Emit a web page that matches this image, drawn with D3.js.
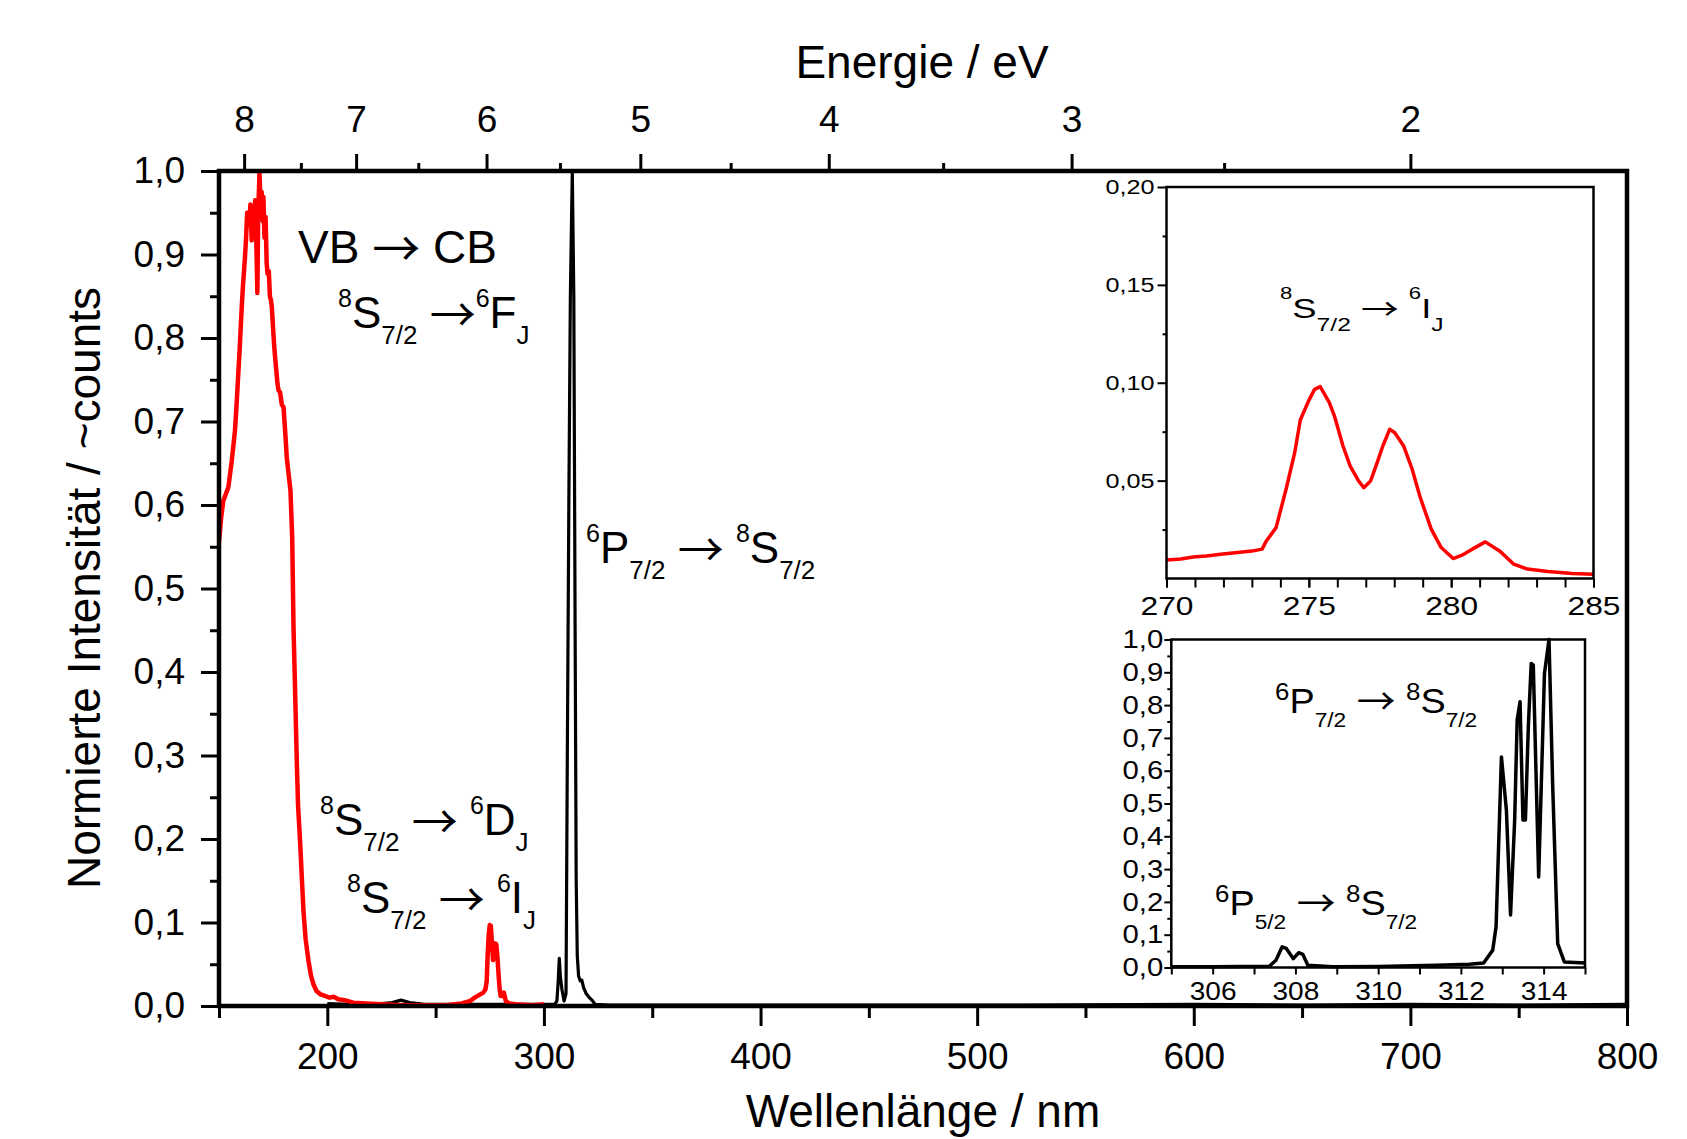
<!DOCTYPE html>
<html>
<head>
<meta charset="utf-8">
<script src="https://cdn.jsdelivr.net/npm/d3@7"></script>
<style>
    body { margin: 0; background: #fff; }
    text { font-family: "Liberation Sans", Arial, sans-serif; fill: #000; }
    .arrow { font-family: "Noto Sans CJK JP", "DejaVu Sans", sans-serif; }
</style>
</head>
<body>
<div id="chart"></div>
<script>
// -- DATA ----------------------------------------

// main spectrum, red (excitation)
var redMainNm = [150, 151, 152, 153, 154.3, 155, 155.9, 157, 157.4, 158, 158.9, 159.5, 160.5, 161, 162, 162.5, 163, 163.6, 164, 164.5,
    165.1, 165.6, 166.2, 166.7, 167.2, 167.7, 168.1, 168.7, 169.2, 169.7, 170.2, 170.5, 171, 171.5, 172, 172.4, 173, 173.5, 174, 174.4,
    175, 175.5, 175.9, 176.5, 177, 177.5, 178.2, 179, 179.8, 180.5, 181.3, 182, 183, 183.8, 184.4, 185.2, 185.9, 186.5, 187.5, 188.3,
    189, 190, 191.3, 192.5, 193.6, 195, 196.8, 199, 201, 203, 205, 208, 212, 218, 225, 235, 245, 255, 262, 266,
    268, 270, 272, 273, 273.6, 274, 274.5, 275, 275.5, 276, 276.5, 277, 277.5, 278, 278.5, 279, 279.5, 280, 281, 281.5,
    282.4, 284, 287, 295, 300];
var redMainI = [0.555, 0.585, 0.605, 0.612, 0.621, 0.635, 0.653, 0.68, 0.69, 0.715, 0.757, 0.785, 0.837, 0.86, 0.897, 0.92, 0.95, 0.949, 0.935, 0.96,
    0.917, 0.955, 0.93, 0.965, 0.92, 0.854, 0.95, 0.997, 0.96, 0.975, 0.94, 0.969, 0.92, 0.945, 0.89, 0.877, 0.88, 0.85, 0.845, 0.837,
    0.81, 0.79, 0.777, 0.76, 0.745, 0.737, 0.735, 0.72, 0.717, 0.69, 0.657, 0.64, 0.617, 0.56, 0.454, 0.37, 0.294, 0.24, 0.194, 0.15,
    0.114, 0.08, 0.054, 0.036, 0.026, 0.018, 0.014, 0.012, 0.01, 0.011, 0.008, 0.007, 0.004, 0.003, 0.002, 0.001, 0.001, 0.001, 0.003, 0.006,
    0.01, 0.013, 0.016, 0.02, 0.03, 0.06, 0.085, 0.097, 0.096, 0.075, 0.055, 0.06, 0.075, 0.074, 0.06, 0.04, 0.022, 0.012, 0.012, 0.016,
    0.006, 0.003, 0.002, 0.001, 0.002];

// main spectrum, black (emission)
var blackMainNm = [200, 210, 225, 230, 234, 238, 245, 260, 280, 300, 305, 306, 306.6, 307.1, 307.6, 308.3, 309.3, 310.2, 310.8, 311.5,
    312.2, 313.1, 313.8, 314.4, 314.9, 315.4, 316, 316.8, 317.5, 318.3, 319.5, 321, 322.5, 323.6, 330, 400, 500, 600, 650, 700, 750, 800];
var blackMainI = [0.003, 0.002, 0.003, 0.004, 0.007, 0.004, 0.002, 0.002, 0.002, 0.002, 0.002, 0.006, 0.03, 0.057, 0.035, 0.02, 0.006, 0.015, 0.3, 0.6,
    0.85, 1.0, 0.85, 0.45, 0.15, 0.06, 0.036, 0.03, 0.031, 0.022, 0.015, 0.01, 0.006, 0.002, 0.001, 0.001, 0.001, 0.002, 0.001, 0.002, 0.001, 0.002];

// inset 1: 8S7/2 -> 6IJ
var inset1Nm = [270, 270.5, 270.94, 271.4, 271.9, 272.5, 273, 273.36, 273.5, 273.85, 274.2, 274.5, 274.7, 275, 275.2, 275.4, 275.72, 275.9,
    276.2, 276.45, 276.75, 276.93, 277.17, 277.4, 277.6, 277.84, 278.02, 278.33, 278.63, 278.9, 279.3, 279.65, 280.07, 280.38, 280.74,
    281.2, 281.7, 282.2, 282.68, 283.4, 284.25, 285];
var inset1I = [0.0095, 0.010, 0.011, 0.0115, 0.0124, 0.0133, 0.014, 0.015, 0.019, 0.026, 0.0456, 0.064, 0.081, 0.091, 0.0966, 0.098, 0.0898, 0.083,
    0.0677, 0.0575, 0.0498, 0.0464, 0.0498, 0.0592, 0.0677, 0.0762, 0.0745, 0.0677, 0.0558, 0.042, 0.0252, 0.0158, 0.0102, 0.0119, 0.015,
    0.0187, 0.0141, 0.0073, 0.0048, 0.0036, 0.0026, 0.0022];

// inset 2: 6P -> 8S7/2
var inset2Nm = [305, 306, 307.37, 307.53, 307.68, 307.78, 307.95, 308.08, 308.18, 308.3, 308.9, 310, 311.4, 312.2, 312.55, 312.77, 312.85,
    312.98, 313.1, 313.2, 313.3, 313.36, 313.43, 313.5, 313.56, 313.63, 313.7, 313.75, 313.88, 314.02, 314.13, 314.22, 314.34, 314.5, 315];
var inset2I = [0.002, 0.002, 0.004, 0.022, 0.063, 0.058, 0.027, 0.045, 0.04, 0.007, 0.002, 0.003, 0.007, 0.01, 0.014, 0.053, 0.124,
    0.642, 0.48, 0.16, 0.45, 0.754, 0.81, 0.45, 0.45, 0.734, 0.927, 0.922, 0.276, 0.896, 1.0, 0.55, 0.073, 0.017, 0.014];

// top axis: energy ticks and where they sit on the wavelength axis
var energyCal = [8, 7.5, 7, 6.5, 6, 5.5, 5, 4.5, 4, 3.5, 3, 2.5, 2];
var energyCalNm = [161.6, 187.8, 213.3, 242.0, 273.5, 307.4, 344.5, 386.2, 431.5, 484.3, 543.6, 614.0, 700.0];
var energyMajor = [8, 7, 6, 5, 4, 3, 2];
var energyMinor = [7.5, 6.5, 5.5, 4.5, 3.5, 2.5];

var wlMajor = [200, 300, 400, 500, 600, 700, 800];
var wlMinor = [150, 250, 350, 450, 550, 650, 750];
var intMajor = d3.range(0, 11).map(d => d / 10);
var intMinor = d3.range(0, 10).map(d => d / 10 + 0.05);

var in1Major = [270, 275, 280, 285];
var in1Minor = d3.range(270, 286);
var in1YMajor = [0.05, 0.10, 0.15, 0.20];
var in1YMinor = [0.025, 0.075, 0.125, 0.175];

var in2Major = [306, 308, 310, 312, 314];
var in2Minor = [305, 307, 309, 311, 313, 315];
var in2YMajor = d3.range(0, 11).map(d => d / 10);
var in2YMinor = d3.range(0, 10).map(d => d / 10 + 0.05);

// -- SETUP ---------------------------------------

let width = 1687,
    height = 1139;

var plot = { left: 219, right: 1627, top: 171, bottom: 1006 };

var svg = d3.select("#chart")
    .append("svg")
    .attr("width", width)
    .attr("height", height);

svg.append("rect").attr("width", width).attr("height", height).attr("fill", "#fff");

var x = d3.scaleLinear().domain([150, 800]).range([plot.left, plot.right]);
var y = d3.scaleLinear().domain([0, 1]).range([plot.bottom, plot.top]);
var xE = d3.scaleLinear().domain(energyCal).range(energyCalNm.map(x));

function comma(digits) {
    return d => d.toFixed(digits).replace(".", ",");
}

// draws one axis, strips the domain line, sets tick look
function drawAxis(parent, axis, opts) {
    var a = parent.append("g")
        .attr("transform", "translate(" + (opts.tx || 0) + "," + (opts.ty || 0) + ")")
        .call(axis);
    a.attr("font-family", null).attr("font-size", opts.size || 10);
    a.select(".domain").remove();
    a.selectAll("line").attr("stroke", "#000").attr("stroke-width", opts.tickW);
    if (opts.sx) {
        a.selectAll("text").attr("transform", "scale(" + opts.sx + ",1)");
        if (opts.left) {
            a.selectAll("text").attr("x", -opts.off / opts.sx);
        }
    }
    return a;
}

// text with super- and subscripts, parts = [[str, "sup"|"sub"|"n"|"arr"], ...]
function richLabel(parent, px, py, o, parts) {
    var g = parent.append("g")
        .attr("transform", "translate(" + px + "," + py + ") scale(" + (o.sx || 1) + ",1)");
    var t = g.append("text")
        .attr("font-size", o.size)
        .style("white-space", "pre");
    var cur = 0;
    parts.forEach(p => {
        var off = p[1] == "sup" ? -o.supUp : (p[1] == "sub" ? o.subDown : (p[1] == "arr" ? o.arrDown : 0));
        var fs = p[1] == "sup" ? o.supSize : (p[1] == "sub" ? o.subSize : (p[1] == "arr" ? o.arrSize : o.size));
        var ts = t.append("tspan").attr("dy", off - cur).attr("font-size", fs).text(p[0]);
        if (p[1] == "arr") ts.attr("class", "arrow");
        cur = off;
    });
    return g;
}

// -- MAIN PLOT -----------------------------------

svg.append("clipPath").attr("id", "mainclip")
    .append("rect")
    .attr("x", plot.left).attr("y", plot.top - 2)
    .attr("width", plot.right - plot.left).attr("height", plot.bottom - plot.top + 2);

var line = d3.line().x(d => x(d[0])).y(d => y(d[1]));

svg.append("path")
    .datum(d3.zip(blackMainNm, blackMainI))
    .attr("clip-path", "url(#mainclip)")
    .attr("fill", "none").attr("stroke", "#000").attr("stroke-width", 3.2)
    .attr("stroke-linejoin", "round")
    .attr("d", line);

svg.append("path")
    .datum(d3.zip(redMainNm, redMainI))
    .attr("clip-path", "url(#mainclip)")
    .attr("fill", "none").attr("stroke", "#ff0000").attr("stroke-width", 4.5)
    .attr("stroke-linejoin", "round")
    .attr("d", line);

// axes
drawAxis(svg, d3.axisLeft(y).tickValues(intMajor).tickSize(18).tickPadding(16).tickFormat(comma(1)),
    { tx: plot.left, size: 37, tickW: 3 });
drawAxis(svg, d3.axisLeft(y).tickValues(intMinor).tickSize(9).tickFormat(""),
    { tx: plot.left, tickW: 3 });
drawAxis(svg, d3.axisBottom(x).tickValues(wlMajor).tickSize(20).tickPadding(17).tickFormat(d3.format("d")),
    { ty: plot.bottom, size: 37, tickW: 3 });
drawAxis(svg, d3.axisBottom(x).tickValues(wlMinor).tickSize(12).tickFormat(""),
    { ty: plot.bottom, tickW: 3 });
drawAxis(svg, d3.axisTop(xE).tickValues(energyMajor).tickSize(17).tickPadding(22).tickFormat(d3.format("d")),
    { ty: plot.top, size: 37, tickW: 3 });
drawAxis(svg, d3.axisTop(xE).tickValues(energyMinor).tickSize(8).tickFormat(""),
    { ty: plot.top, tickW: 3 });

svg.append("rect")
    .attr("x", plot.left).attr("y", plot.top)
    .attr("width", plot.right - plot.left).attr("height", plot.bottom - plot.top)
    .attr("fill", "none").attr("stroke", "#000").attr("stroke-width", 4.5);

// titles
svg.append("text")
    .attr("x", 922).attr("y", 78)
    .attr("text-anchor", "middle").attr("font-size", 46)
    .text("Energie / eV");

svg.append("text")
    .attr("x", 923).attr("y", 1127)
    .attr("text-anchor", "middle").attr("font-size", 46)
    .text("Wellenl\u00e4nge / nm");

svg.append("text")
    .attr("transform", "translate(100,588) rotate(-90)")
    .attr("text-anchor", "middle").attr("font-size", 46)
    .text("Normierte Intensit\u00e4t / ~counts");

// annotations
var big = { size: 44, supSize: 25, supUp: 21, subSize: 26, subDown: 16, arrSize: 46, arrDown: 3 };
var arrow = "\u2192";

richLabel(svg, 298, 263, { size: 46, arrSize: 48, arrDown: 3 },
    [["VB ", "n"], [arrow, "arr"], [" CB", "n"]]);
richLabel(svg, 338, 328, big,
    [["8", "sup"], ["S", "n"], ["7/2", "sub"], [" ", "n"], [arrow, "arr"], ["6", "sup"], ["F", "n"], ["J", "sub"]]);
richLabel(svg, 320, 835, big,
    [["8", "sup"], ["S", "n"], ["7/2", "sub"], [" ", "n"], [arrow, "arr"], [" ", "n"], ["6", "sup"], ["D", "n"], ["J", "sub"]]);
richLabel(svg, 347, 913, big,
    [["8", "sup"], ["S", "n"], ["7/2", "sub"], [" ", "n"], [arrow, "arr"], [" ", "n"], ["6", "sup"], ["I", "n"], ["J", "sub"]]);
richLabel(svg, 586, 563, big,
    [["6", "sup"], ["P", "n"], ["7/2", "sub"], [" ", "n"], [arrow, "arr"], [" ", "n"], ["8", "sup"], ["S", "n"], ["7/2", "sub"]]);

// -- INSET 1 -------------------------------------

var in1 = { left: 1166.5, right: 1593.5, top: 187, bottom: 578.5 };
var x1 = d3.scaleLinear().domain([270, 285]).range([in1.left, in1.right]);
var y1 = d3.scaleLinear().domain([0, 0.2]).range([in1.bottom, in1.top]);

svg.append("rect")
    .attr("x", in1.left).attr("y", in1.top)
    .attr("width", in1.right - in1.left).attr("height", in1.bottom - in1.top)
    .attr("fill", "#fff");

svg.append("path")
    .datum(d3.zip(inset1Nm, inset1I))
    .attr("fill", "none").attr("stroke", "#ff0000").attr("stroke-width", 3.5)
    .attr("stroke-linejoin", "round")
    .attr("d", d3.line().x(d => x1(d[0])).y(d => y1(d[1])));

drawAxis(svg, d3.axisBottom(x1).tickValues(in1Major).tickSize(9).tickPadding(10).tickFormat(d3.format("d")),
    { ty: in1.bottom, size: 25, tickW: 2, sx: 1.27 });
drawAxis(svg, d3.axisBottom(x1).tickValues(in1Minor).tickSize(9).tickFormat(""),
    { ty: in1.bottom, tickW: 2 });
drawAxis(svg, d3.axisLeft(y1).tickValues(in1YMajor).tickSize(9).tickPadding(3).tickFormat(comma(2)),
    { tx: in1.left, size: 21, tickW: 2, sx: 1.2, left: true, off: 12 });
drawAxis(svg, d3.axisLeft(y1).tickValues(in1YMinor).tickSize(4).tickFormat(""),
    { tx: in1.left, tickW: 2 });

svg.append("rect")
    .attr("x", in1.left).attr("y", in1.top)
    .attr("width", in1.right - in1.left).attr("height", in1.bottom - in1.top)
    .attr("fill", "none").attr("stroke", "#000").attr("stroke-width", 2.5);

richLabel(svg, 1280, 318, { size: 28, supSize: 17, supUp: 19, subSize: 19, subDown: 13, arrSize: 29, arrDown: 2, sx: 1.3 },
    [["8", "sup"], ["S", "n"], ["7/2", "sub"], [" ", "n"], [arrow, "arr"], [" ", "n"], ["6", "sup"], ["I", "n"], ["J", "sub"]]);

// -- INSET 2 -------------------------------------

var in2 = { left: 1171.3, right: 1585, top: 639.5, bottom: 967.5 };
var x2 = d3.scaleLinear().domain([305, 315]).range([in2.left, in2.right]);
var y2 = d3.scaleLinear().domain([0, 1]).range([in2.bottom, in2.top]);

svg.append("rect")
    .attr("x", in2.left).attr("y", in2.top)
    .attr("width", in2.right - in2.left).attr("height", in2.bottom - in2.top)
    .attr("fill", "#fff");

svg.append("path")
    .datum(d3.zip(inset2Nm, inset2I))
    .attr("fill", "none").attr("stroke", "#000").attr("stroke-width", 3.5)
    .attr("stroke-linejoin", "round")
    .attr("d", d3.line().x(d => x2(d[0])).y(d => y2(d[1])));

drawAxis(svg, d3.axisBottom(x2).tickValues(in2Major).tickSize(7).tickPadding(7).tickFormat(d3.format("d")),
    { ty: in2.bottom, size: 25.5, tickW: 2, sx: 1.1 });
drawAxis(svg, d3.axisBottom(x2).tickValues(in2Minor).tickSize(7).tickFormat(""),
    { ty: in2.bottom, tickW: 2 });
drawAxis(svg, d3.axisLeft(y2).tickValues(in2YMajor).tickSize(7).tickPadding(1).tickFormat(comma(1)),
    { tx: in2.left, size: 25.5, tickW: 2, sx: 1.15, left: true, off: 8 });
drawAxis(svg, d3.axisLeft(y2).tickValues(in2YMinor).tickSize(4).tickFormat(""),
    { tx: in2.left, tickW: 2 });

svg.append("rect")
    .attr("x", in2.left).attr("y", in2.top)
    .attr("width", in2.right - in2.left).attr("height", in2.bottom - in2.top)
    .attr("fill", "none").attr("stroke", "#000").attr("stroke-width", 2.5);

var small = { size: 35, supSize: 24, supUp: 13, subSize: 21, subDown: 14, arrSize: 36, arrDown: 2, sx: 1.08 };

richLabel(svg, 1275, 713, small,
    [["6", "sup"], ["P", "n"], ["7/2", "sub"], [" ", "n"], [arrow, "arr"], [" ", "n"], ["8", "sup"], ["S", "n"], ["7/2", "sub"]]);
richLabel(svg, 1215, 915, small,
    [["6", "sup"], ["P", "n"], ["5/2", "sub"], [" ", "n"], [arrow, "arr"], [" ", "n"], ["8", "sup"], ["S", "n"], ["7/2", "sub"]]);
</script>
</body>
</html>
